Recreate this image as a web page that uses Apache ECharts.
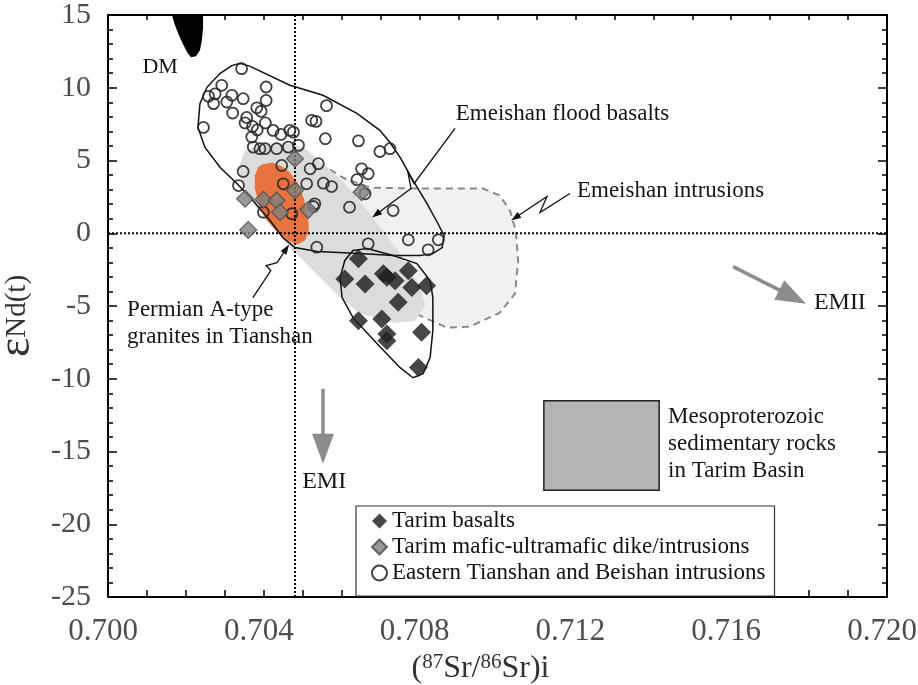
<!DOCTYPE html>
<html><head><meta charset="utf-8">
<script src="https://cdn.jsdelivr.net/npm/echarts@6/dist/echarts.min.js"></script>
<style>html,body{margin:0;padding:0;background:#fff}#c{width:918px;height:685px}</style>
</head><body><div id="c"></div>
<script>
// ---------- axis ticks ----------
const xTickLabels = ['0.700','0.704','0.708','0.712','0.716','0.720'];
const yTickLabels = ['-25','-20','-15','-10','-5','0','5','10','15'];

// ---------- series values: [87Sr/86Sr(i), eNd(t)] ----------
const tarimBasalts = [
  [0.70643,-1.76],[0.70608,-3.14],[0.70660,-3.48],[0.70707,-2.79],[0.70716,-3.03],
  [0.70737,-3.26],[0.70771,-2.57],[0.70780,-3.72],[0.70818,-3.60],[0.70745,-4.75],
  [0.70643,-6.01],[0.70703,-5.89],[0.70716,-6.92],[0.70716,-7.38],[0.70805,-6.81],
  [0.70797,-9.22]
];
const tarimDikes = [
  [0.70480,5.12],[0.70352,2.37],[0.70399,2.30],[0.70433,2.25],[0.70480,2.94],
  [0.70442,1.45],[0.70514,1.61],[0.70360,0.23],[0.70651,2.82]
];
const tianshanBeishan = [
  [0.70343,11.31],[0.70292,10.17],[0.70258,9.41],[0.70275,9.58],[0.70271,8.91],
  [0.70318,9.48],[0.70305,9.02],[0.70347,9.25],[0.70320,8.26],[0.70406,10.05],
  [0.70406,9.13],[0.70382,8.62],[0.70393,8.38],[0.70356,7.96],[0.70352,7.58],
  [0.70371,7.34],[0.70404,7.58],[0.70383,7.10],[0.70369,6.61],[0.70424,7.07],
  [0.70444,6.79],[0.70467,7.07],[0.70476,6.95],[0.70245,7.27],[0.70373,5.92],
  [0.70390,5.81],[0.70403,5.81],[0.70433,5.81],[0.70463,5.92],[0.70489,6.04],
  [0.70561,8.77],[0.70523,7.76],[0.70534,7.69],[0.70558,6.50],[0.70643,6.35],
  [0.70698,5.62],[0.70724,5.81],[0.70347,4.25],[0.70335,3.28],[0.70446,4.66],
  [0.70450,3.40],[0.70510,3.40],[0.70531,2.02],[0.70472,1.34],[0.70519,4.43],
  [0.70540,4.78],[0.70553,3.44],[0.70574,3.21],[0.70651,4.43],[0.70668,4.09],
  [0.70639,3.68],[0.70660,2.71],[0.70527,1.84],[0.70620,1.79],[0.70732,1.56],
  [0.70771,-0.45],[0.70822,-1.14],[0.70848,-0.45],[0.70668,-0.73],[0.70536,-0.96],
  [0.70399,1.45]
];

// ---------- reference fields (outlines in data units) ----------
const dmField = [
  [0.70164,15.0],[0.70172,14.3],[0.70182,13.6],[0.70193,12.98],[0.70203,12.44],
  [0.70213,12.09],[0.70226,12.16],[0.70236,12.57],[0.70241,13.26],[0.70244,14.09],[0.70244,15.0]
];
const emeishanIntrusions = [
  [0.70365,5.55],[0.70416,5.69],[0.70480,5.55],[0.70539,4.87],[0.70608,3.76],[0.70673,3.14],
  [0.70801,3.07],[0.70963,3.07],[0.71006,2.59],[0.71032,1.56],[0.71047,0.19],[0.71053,-1.88],
  [0.71045,-4.15],[0.71006,-5.46],[0.70929,-6.42],[0.70870,-6.49],[0.70801,-5.66],[0.70750,-4.98],
  [0.70647,-3.60],[0.70544,-2.22],[0.70485,-1.40],[0.70442,0.05],[0.70403,1.56],[0.70377,3.28],[0.70365,4.66]
];
const emeishanBasalts = [
  [0.70352,5.69],[0.70403,6.17],[0.70467,6.17],[0.70506,5.83],[0.70557,4.66],[0.70608,3.42],
  [0.70680,1.08],[0.70750,-1.40],[0.70801,-3.60],[0.70814,-4.98],[0.70788,-6.01],[0.70737,-6.15],
  [0.70647,-5.53],[0.70596,-4.42],[0.70526,-2.56],[0.70460,-0.71],[0.70395,1.22],[0.70352,2.94],[0.70334,4.45]
];
const aTypeGranites = [
  [0.70395,4.73],[0.70421,4.87],[0.70447,4.59],[0.70467,4.18],[0.70488,3.42],[0.70503,2.39],
  [0.70513,1.22],[0.70516,0.19],[0.70506,-0.50],[0.70485,-0.78],[0.70462,-0.50],[0.70431,0.19],
  [0.70406,0.94],[0.70388,1.91],[0.70377,3.08],[0.70377,3.97],[0.70385,4.52]
];
const tianshanHull = [
  [0.70339,11.68],[0.70365,11.47],[0.70467,10.17],[0.70552,9.48],[0.70639,8.24],[0.70698,7.07],
  [0.70724,6.24],[0.70750,5.21],[0.70783,3.63],[0.70819,2.04],[0.70847,0.67],[0.70863,-0.16],
  [0.70858,-0.98],[0.70834,-1.40],[0.70801,-1.53],[0.70732,-1.53],[0.70647,-1.40],[0.70537,-1.26],
  [0.70480,-0.98],[0.70449,-0.30],[0.70416,0.87],[0.70372,2.25],[0.70331,3.42],[0.70288,4.52],
  [0.70249,5.90],[0.70231,7.27],[0.70236,8.91],[0.70254,10.03],[0.70288,10.99],[0.70318,11.52]
];
const basaltHull = [
  [0.70629,-1.19],[0.70665,-1.05],[0.70732,-1.53],[0.70793,-2.09],[0.70827,-3.25],[0.70834,-4.42],
  [0.70834,-6.70],[0.70827,-8.55],[0.70809,-9.65],[0.70783,-9.93],[0.70750,-9.24],[0.70691,-7.59],
  [0.70629,-5.80],[0.70601,-4.42],[0.70596,-3.04],[0.70608,-1.87]
];
const mesoproterozoicBox = [[0.71119,-11.51],[0.71415,-17.66]];
const refSr = 0.7048;
const refNd = 0;

// ---------- annotations ----------
const labelTexts = ['DM','Emeishan flood basalts','Emeishan intrusions',
  'Permian A-type\ngranites in Tianshan','EMI','EMII','Mesoproterozoic\nsedimentary rocks\nin Tarim Basin'];
const labelAnchors = [[0.70134,11.39],[0.70893,8.23],[0.71204,2.92],[0.70049,-6.18],
  [0.70555,-17.09],[0.71879,-4.76],[0.71438,-14.47]];
const labelAlign = ['center','left','left','left','center','center','left'];
const labelSize = [22, 23, 23, 23, 24, 24, 23];
const pointerPaths = [
  [[0.70891,7.21],[0.70786,3.42],[0.70770,4.18],[0.70778,3.08],[0.70678,1.08]],
  [[0.71186,2.73],[0.71109,1.42],[0.71127,2.53],[0.71035,0.88]],
  [[0.70372,-4.43],[0.70418,-2.57],[0.70406,-2.22],[0.70434,-2.02],[0.70465,-0.78]]
];
const endmemberArrows = [
  [[0.70552,-10.69],[0.70552,-15.85]],
  [[0.71605,-2.29],[0.71792,-4.84]]
];

// ---------- rendering ----------
const FONT = '"Liberation Serif","Times New Roman",serif';
const chart = echarts.init(document.getElementById('c'));

function areaSeries(name, pts, style, z) {
  return {
    type: 'custom', name: name, z: z, silent: true, coordinateSystem: 'cartesian2d',
    xAxisIndex: 0, yAxisIndex: 0, data: pts, encode: {x: 0, y: 1},
    renderItem: function (params, api) {
      if (params.dataIndex !== 0) return null;
      return {type: 'polygon', shape: {points: pts.map(function (p) { return api.coord(p); })}, style: style};
    }
  };
}
function arrowSeries(name, paths, color, width, headLen, headW, z) {
  return {
    type: 'custom', name: name, z: z, silent: true, coordinateSystem: 'cartesian2d',
    data: paths.map(function (p) { return p[p.length - 1]; }), encode: {x: 0, y: 1},
    renderItem: function (params, api) {
      const pts = paths[params.dataIndex].map(function (p) { return api.coord(p); });
      const a = pts[pts.length - 2], b = pts[pts.length - 1];
      const ang = Math.atan2(b[1] - a[1], b[0] - a[0]);
      const c = Math.cos(ang), s = Math.sin(ang);
      const bx = b[0] - headLen * c, by = b[1] - headLen * s;
      const head = [b, [bx + headW / 2 * s, by - headW / 2 * c], [bx - headW / 2 * s, by + headW / 2 * c]];
      const shaft = pts.slice(0, -1).concat([[b[0] - headLen * 0.7 * c, b[1] - headLen * 0.7 * s]]);
      return {type: 'group', children: [
        {type: 'polyline', shape: {points: shaft}, style: {stroke: color, lineWidth: width, fill: null}},
        {type: 'polygon', shape: {points: head}, style: {fill: color}}
      ]};
    }
  };
}

const xMin = +xTickLabels[0], xMax = +xTickLabels[xTickLabels.length - 1];
const yMin = +yTickLabels[0], yMax = +yTickLabels[yTickLabels.length - 1];

function tickCfg(len, minorLen, split) {
  return {
    axisTick: {show: true, inside: true, length: len, lineStyle: {color: '#000', width: 1.5}},
    minorTick: {show: true, splitNumber: split, length: minorLen, lineStyle: {color: '#000', width: 1.5}}
  };
}
const axisLineCfg = {show: true, onZero: false, lineStyle: {color: '#000', width: 2}};

const option = {
  animation: false,
  backgroundColor: '#fff',
  grid: {left: 108, right: 31, top: 15, bottom: 88, containLabel: false, outerBoundsMode: 'none'},
  xAxis: [
    Object.assign({
      type: 'value', position: 'bottom', min: xMin, max: xMax, interval: 0.004,
      axisLine: axisLineCfg, splitLine: {show: false},
      axisLabel: {margin: 19, fontSize: 31, fontFamily: FONT, color: '#4d4d4d', padding: [0, 10, 0, 0],
        formatter: function (v) { return v.toFixed(3); }},
      name: '({s|87}Sr/{s|86}Sr)i', nameLocation: 'middle', nameGap: 39,
      nameTextStyle: {fontSize: 32, fontFamily: FONT, color: '#333', padding: [0, 34, 0, 0],
        rich: {s: {fontSize: 21, fontFamily: FONT, color: '#333', verticalAlign: 'top', padding: [0, 0, 12, 0]}}}
    }, tickCfg(7, 7, 4)),
    Object.assign({
      type: 'value', position: 'top', min: xMin, max: xMax, interval: 0.004,
      axisLine: axisLineCfg, splitLine: {show: false},
      axisLabel: {show: false}
    }, tickCfg(5, 5, 4))
  ],
  yAxis: [
    Object.assign({
      type: 'value', position: 'left', min: yMin, max: yMax, interval: 5,
      axisLine: axisLineCfg, splitLine: {show: false},
      axisLabel: {margin: 17, fontSize: 30, fontFamily: FONT, color: '#4d4d4d'},
      name: '{e|ε}{n|Nd(t)}', nameLocation: 'middle', nameRotate: 90, nameGap: 58,
      nameTextStyle: {fontFamily: FONT, color: '#333', padding: [0, 20, 0, 0],
        rich: {e: {fontSize: 46, fontFamily: FONT, color: '#333'}, n: {fontSize: 29, fontFamily: FONT, color: '#333'}}}
    }, tickCfg(9, 5, 5)),
    Object.assign({
      type: 'value', position: 'right', min: yMin, max: yMax, interval: 5,
      axisLine: axisLineCfg, splitLine: {show: false},
      axisLabel: {show: false}
    }, tickCfg(9, 5, 5))
  ],
  legend: {
    left: 356, top: 506, orient: 'vertical',
    backgroundColor: '#fff', borderColor: '#333', borderWidth: 1.2,
    padding: [3, 9, 11, 15], itemGap: 2, itemWidth: 15, itemHeight: 15,
    textStyle: {fontSize: 23, fontFamily: FONT, color: '#111', lineHeight: 24},
    selectedMode: false,
    data: [
      {name: 'Tarim basalts', icon: 'diamond'},
      {name: 'Tarim mafic-ultramafic dike/intrusions', icon: 'diamond'},
      {name: 'Eastern Tianshan and Beishan intrusions', icon: 'circle'}
    ]
  },
  series: [
    areaSeries('Emeishan intrusions', emeishanIntrusions,
      {fill: '#f1f1f1', stroke: '#8a8a8a', lineWidth: 2, lineDash: [7, 5]}, 1),
    areaSeries('Emeishan flood basalts', emeishanBasalts, {fill: '#dcdcdc'}, 2),
    areaSeries('Permian A-type granites', aTypeGranites, {fill: '#e9733f'}, 3),
    areaSeries('DM', dmField, {fill: '#000'}, 3),
    areaSeries('Eastern Tianshan field', tianshanHull, {fill: null, stroke: '#111', lineWidth: 1.5}, 4),
    areaSeries('Tarim basalt field', basaltHull, {fill: null, stroke: '#111', lineWidth: 1.5}, 4),
    {
      type: 'custom', name: 'Mesoproterozoic box', z: 4, silent: true, coordinateSystem: 'cartesian2d',
      data: mesoproterozoicBox, encode: {x: 0, y: 1},
      renderItem: function (params, api) {
        if (params.dataIndex !== 0) return null;
        const p0 = api.coord(mesoproterozoicBox[0]), p1 = api.coord(mesoproterozoicBox[1]);
        return {type: 'rect', shape: {x: p0[0], y: p0[1], width: p1[0] - p0[0], height: p1[1] - p0[1]},
          style: {fill: '#b3b3b3', stroke: '#222', lineWidth: 1.5}};
      }
    },
    {
      type: 'custom', name: 'reference lines', z: 4, silent: true, coordinateSystem: 'cartesian2d',
      data: [[refSr, refNd]], encode: {x: 0, y: 1},
      renderItem: function (params, api) {
        const a = api.coord([refSr, yMin]), b = api.coord([refSr, yMax]);
        const c = api.coord([xMin, refNd]), d = api.coord([xMax, refNd]);
        const st = {stroke: '#000', lineWidth: 2, lineDash: [2, 2], fill: null};
        return {type: 'group', children: [
          {type: 'line', shape: {x1: a[0], y1: a[1], x2: b[0], y2: b[1]}, style: st},
          {type: 'line', shape: {x1: c[0], y1: c[1], x2: d[0], y2: d[1]}, style: st}
        ]};
      }
    },
    {
      type: 'scatter', name: 'Eastern Tianshan and Beishan intrusions', z: 5, silent: true,
      data: tianshanBeishan, symbol: 'circle', symbolSize: 11,
      itemStyle: {color: 'rgba(255,255,255,0)', borderColor: '#2a2a2a', borderWidth: 1.8, opacity: 0.9}
    },
    {
      type: 'scatter', name: 'Tarim mafic-ultramafic dike/intrusions', z: 6, silent: true,
      data: tarimDikes, symbol: 'diamond', symbolSize: 17,
      itemStyle: {color: '#7e7e7e', borderColor: '#4a4a4a', borderWidth: 1.2, opacity: 0.8}
    },
    {
      type: 'scatter', name: 'Tarim basalts', z: 6, silent: true,
      data: tarimBasalts, symbol: 'diamond', symbolSize: 19,
      itemStyle: {color: '#1e1e1e', opacity: 0.82}
    },
    arrowSeries('pointers', pointerPaths, '#111', 1.3, 10, 7, 7),
    arrowSeries('end-members', endmemberArrows, '#8c8c8c', 3.5, 30, 22, 7),
    {
      type: 'custom', name: 'labels', z: 8, silent: true, coordinateSystem: 'cartesian2d',
      data: labelAnchors, encode: {x: 0, y: 1},
      renderItem: function (params, api) {
        const i = params.dataIndex;
        const p = api.coord(labelAnchors[i]);
        return {type: 'text', x: p[0], y: p[1], style: {
          text: labelTexts[i], fill: '#151515', font: labelSize[i] + 'px ' + FONT,
          textAlign: labelAlign[i], textVerticalAlign: 'middle', lineHeight: 27}};
      }
    }
  ]
};
chart.setOption(option);
</script>
</body></html>
